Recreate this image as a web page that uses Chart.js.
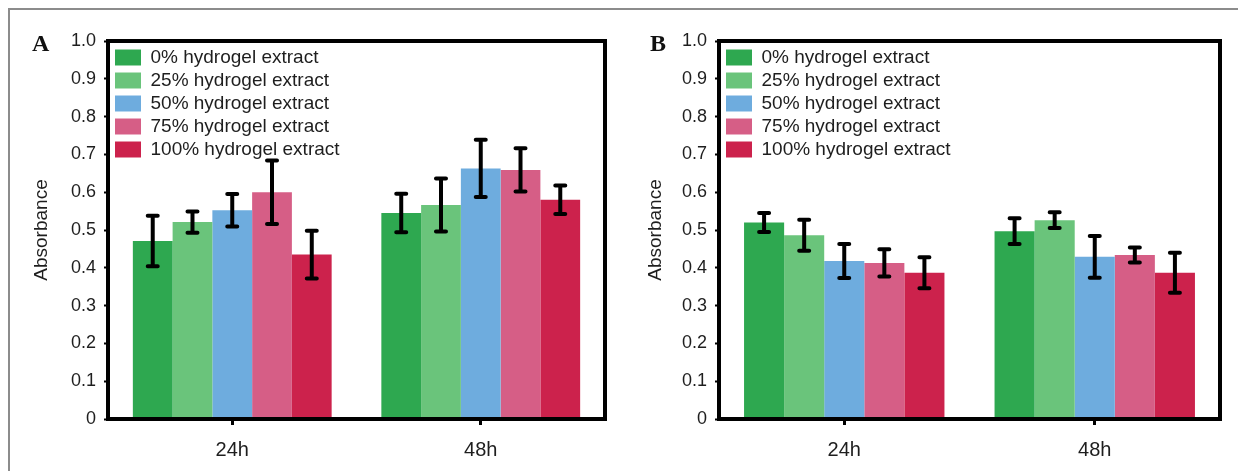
<!DOCTYPE html>
<html>
<head>
<meta charset="utf-8">
<script src="https://cdn.jsdelivr.net/npm/chart.js@4.4.1/dist/chart.umd.min.js"></script>
<style>
  body { margin: 0; width: 1238px; height: 471px; overflow: hidden; background: #fff; position: relative; }
  .outer { position: absolute; left: 8px; top: 8px; right: -4px; bottom: -4px; border-top: 2px solid #8c8c8c; border-left: 2px solid #8c8c8c; }
  .wrap { position: absolute; top: 0; height: 471px; }
</style>
</head>
<body>
<div class="outer"></div>
<div class="wrap" style="left:0;width:620px"><canvas id="chartA"></canvas></div>
<div class="wrap" style="left:614px;width:624px"><canvas id="chartB"></canvas></div>
<script>
// categories and series
const categories = ['24h', '48h'];
const seriesLabels = ['0% hydrogel extract', '25% hydrogel extract', '50% hydrogel extract', '75% hydrogel extract', '100% hydrogel extract'];
const seriesColors = ['#2ea850', '#6ac47b', '#6eacde', '#d65e86', '#cc224c'];
const yTickLabels = ['0', '0.1', '0.2', '0.3', '0.4', '0.5', '0.6', '0.7', '0.8', '0.9', '1.0'];

// panel A - mean absorbance per series (24h, 48h)
const a0 = [0.471, 0.545];
const a25 = [0.521, 0.566];
const a50 = [0.552, 0.663];
const a75 = [0.600, 0.659];
const a100 = [0.435, 0.580];
// panel A - error (half height of bar)
const aErr0 = [0.067, 0.051];
const aErr25 = [0.028, 0.070];
const aErr50 = [0.043, 0.076];
const aErr75 = [0.084, 0.057];
const aErr100 = [0.063, 0.038];

// panel B
const b0 = [0.520, 0.497];
const b25 = [0.486, 0.526];
const b50 = [0.418, 0.429];
const b75 = [0.413, 0.434];
const b100 = [0.387, 0.387];
const bErr0 = [0.025, 0.034];
const bErr25 = [0.041, 0.021];
const bErr50 = [0.045, 0.055];
const bErr75 = [0.036, 0.020];
const bErr100 = [0.041, 0.053];

const FONT = "'Liberation Sans', Arial, sans-serif";
const TEXT = '#1e1e1e';

// black box round the plot area
const framePlugin = {
  id: 'frame',
  afterDatasetsDraw(chart) {
    const { ctx, chartArea: a } = chart;
    ctx.save();
    ctx.strokeStyle = '#000';
    ctx.lineWidth = 4;
    ctx.strokeRect(a.left, a.top, a.right - a.left, a.bottom - a.top);
    ctx.restore();
  }
};

// error bars from the errors option
const errorBarPlugin = {
  id: 'errorBars',
  afterDatasetsDraw(chart, args, opts) {
    const { ctx } = chart;
    const y = chart.scales.y;
    ctx.save();
    ctx.strokeStyle = '#000';
    chart.data.datasets.forEach((ds, i) => {
      const meta = chart.getDatasetMeta(i);
      const errs = opts.errors[i];
      meta.data.forEach((bar, j) => {
        const v = ds.data[j];
        const top = y.getPixelForValue(v + errs[j]);
        const bot = y.getPixelForValue(v - errs[j]);
        ctx.lineWidth = 4;
        ctx.lineCap = 'butt';
        ctx.beginPath();
        ctx.moveTo(bar.x, top);
        ctx.lineTo(bar.x, bot);
        ctx.stroke();
        ctx.lineCap = 'round';
        ctx.beginPath();
        ctx.moveTo(bar.x - 5, top);
        ctx.lineTo(bar.x + 5, top);
        ctx.moveTo(bar.x - 5, bot);
        ctx.lineTo(bar.x + 5, bot);
        ctx.stroke();
      });
    });
    ctx.restore();
  }
};

// panel letter A / B
const panelLabelPlugin = {
  id: 'panelLabel',
  afterDraw(chart, args, opts) {
    const { ctx } = chart;
    ctx.save();
    ctx.font = "bold 24px 'Liberation Serif', 'Times New Roman', serif";
    ctx.fillStyle = '#111';
    ctx.textBaseline = 'alphabetic';
    ctx.fillText(opts.text, opts.x, opts.y);
    ctx.restore();
  }
};

// put the legend inside the top left corner of the plot
const legendPlace = {
  id: 'legendPlace',
  afterLayout(chart) {
    const lg = chart.legend;
    const a = chart.chartArea;
    if (lg) {
      lg.left = a.left + 3;
      lg.top = a.top + 3;
      lg.right = a.right;
      lg.bottom = a.bottom;
    }
  }
};

function makeChart(id, values, errors, cfg) {
  const ctx = document.getElementById(id).getContext('2d');
  return new Chart(ctx, {
    type: 'bar',
    data: {
      labels: categories,
      datasets: values.map((v, i) => ({
        label: seriesLabels[i],
        data: v,
        backgroundColor: seriesColors[i],
        borderWidth: 0
      }))
    },
    options: {
      responsive: true,
      maintainAspectRatio: false,
      animation: false,
      barPercentage: 1,
      categoryPercentage: 0.8,
      layout: { padding: { left: cfg.leftPad, right: cfg.rightPad, top: 41, bottom: 0 } },
      plugins: {
        legend: {
          position: 'chartArea',
          align: 'start',
          labels: {
            boxWidth: 26,
            boxHeight: 16,
            padding: 4,
            color: TEXT,
            font: { family: FONT, size: 19 }
          }
        },
        tooltip: { enabled: false },
        errorBars: { errors },
        panelLabel: cfg.panel
      },
      scales: {
        x: {
          grid: { display: true, drawOnChartArea: false, offset: false, tickLength: 6, tickWidth: 3, tickColor: '#000' },
          border: { display: false },
          ticks: { color: TEXT, padding: 13, font: { family: FONT, size: 20 } },
          afterFit: (s) => { s.height = 52; }
        },
        y: {
          min: 0,
          max: 1,
          grid: { display: true, drawOnChartArea: false, tickLength: 4, tickWidth: 2, tickColor: '#000' },
          border: { display: false },
          ticks: {
            stepSize: 0.1,
            color: TEXT,
            padding: 8,
            font: { family: FONT, size: 18 },
            callback: (v, i) => yTickLabels[i]
          },
          title: {
            display: true,
            text: 'Absorbance',
            color: TEXT,
            padding: { top: 10, bottom: 0 },
            font: { family: FONT, size: 19 }
          },
          afterFit: (s) => { s.width = cfg.axisWidth; }
        }
      }
    },
    plugins: [framePlugin, errorBarPlugin, panelLabelPlugin, legendPlace]
  });
}

makeChart('chartA', [a0, a25, a50, a75, a100], [aErr0, aErr25, aErr50, aErr75, aErr100],
  { leftPad: 20, axisWidth: 88, rightPad: 15, panel: { text: 'A', x: 32, y: 51 } });
makeChart('chartB', [b0, b25, b50, b75, b100], [bErr0, bErr25, bErr50, bErr75, bErr100],
  { leftPad: 20, axisWidth: 85, rightPad: 18, panel: { text: 'B', x: 36, y: 51 } });
</script>
</body>
</html>
